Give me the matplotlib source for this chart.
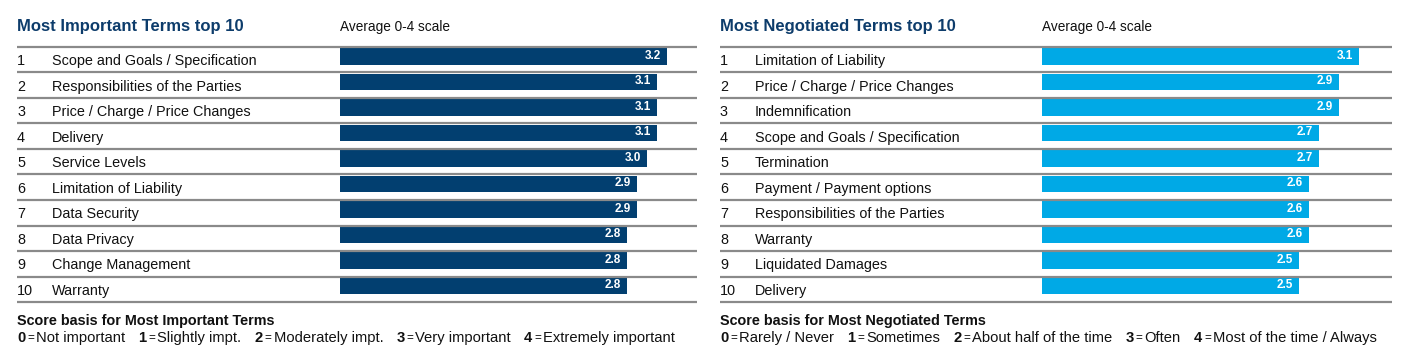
import matplotlib.pyplot as plt
import numpy as np
from matplotlib.transforms import blended_transform_factory

plt.rcParams["font.family"] = ["Liberation Sans", "DejaVu Sans"]

# data
IMPORTANT_TERMS = [
    "Scope and Goals / Specification",
    "Responsibilities of the Parties",
    "Price / Charge / Price Changes",
    "Delivery",
    "Service Levels",
    "Limitation of Liability",
    "Data Security",
    "Data Privacy",
    "Change Management",
    "Warranty",
]
IMPORTANT_SCORES = [3.2, 3.1, 3.1, 3.1, 3.0, 2.9, 2.9, 2.8, 2.8, 2.8]

NEGOTIATED_TERMS = [
    "Limitation of Liability",
    "Price / Charge / Price Changes",
    "Indemnification",
    "Scope and Goals / Specification",
    "Termination",
    "Payment / Payment options",
    "Responsibilities of the Parties",
    "Warranty",
    "Liquidated Damages",
    "Delivery",
]
NEGOTIATED_SCORES = [3.1, 2.9, 2.9, 2.7, 2.7, 2.6, 2.6, 2.6, 2.5, 2.5]

IMPORTANT_BASIS = [
    ("0", "Not important"),
    ("1", "Slightly impt."),
    ("2", "Moderately impt."),
    ("3", "Very important"),
    ("4", "Extremely important"),
]
NEGOTIATED_BASIS = [
    ("0", "Rarely / Never"),
    ("1", "Sometimes"),
    ("2", "About half of the time"),
    ("3", "Often"),
    ("4", "Most of the time / Always"),
]

COL_TITLE = "#0d3c6b"
COL_DARK = "#023f70"
COL_LIGHT = "#00a9e6"
COL_LINE = "#8a8a8a"
COL_TEXT = "#111111"

W, H = 1411, 352
BAR_PAD = 0.07


def fx(px):
    return px / W


def fy(py):
    return 1 - py / H


def draw_panel(fig, x0, x_bar, x_end, title, terms, scores, color, basis_title, basis):
    top, bottom = 47, 302
    ax = fig.add_axes([fx(x_bar), fy(bottom), fx(x_end - x_bar), (bottom - top) / H])
    n = len(terms)
    y = np.arange(n)
    ax.set_ylim(n - 0.5, -0.5)
    ax.set_xlim(-BAR_PAD, (x_end - x_bar) / 100 - BAR_PAD)
    ax.axis("off")

    vals = np.array(scores)
    ax.barh(y - 0.5 + 0.04, vals + BAR_PAD, left=-BAR_PAD, height=0.66,
            align="edge", color=color, linewidth=0)
    for i, v in enumerate(vals):
        ax.text(v - 0.06, i - 0.5 + 0.35, f"{v:.1f}", ha="right", va="center",
                color="white", fontsize=8.5, fontweight="bold")

    tr = blended_transform_factory(fig.transFigure, ax.transData)
    ax.hlines(np.arange(n + 1) - 0.5, fx(x0), fx(x_end), transform=tr,
              color=COL_LINE, linewidth=1.6, clip_on=False)
    for i, name in enumerate(terms):
        ax.text(fx(x0), i + 0.06, str(i + 1), transform=tr, ha="left", va="center",
                fontsize=10.4, color=COL_TEXT)
        ax.text(fx(x0 + 35), i + 0.06, name, transform=tr, ha="left", va="center",
                fontsize=10.4, color=COL_TEXT)

    fig.text(fx(x0), fy(26), title, ha="left", va="center", fontsize=12,
             fontweight="bold", color=COL_TITLE)
    fig.text(fx(x_bar), fy(27), "Average 0-4 scale", ha="left", va="center",
             fontsize=9.8, color=COL_TEXT)

    fig.text(fx(x0), fy(321), basis_title, ha="left", va="center", fontsize=10.4,
             fontweight="bold", color=COL_TEXT)

    renderer = fig.canvas.get_renderer()
    x = x0
    for num, label in basis:
        t = fig.text(fx(x), fy(338), num, ha="left", va="center", fontsize=10.6,
                     fontweight="bold", color=COL_TEXT)
        x += t.get_window_extent(renderer).width + 2
        t = fig.text(fx(x), fy(338), "=", ha="left", va="center", fontsize=8.5,
                     color=COL_TEXT)
        x += t.get_window_extent(renderer).width + 2
        t = fig.text(fx(x), fy(338), label, ha="left", va="center", fontsize=10.6,
                     color=COL_TEXT)
        x += t.get_window_extent(renderer).width + 13


fig = plt.figure(figsize=(W / 100, H / 100), dpi=100)
fig.patch.set_facecolor("white")

draw_panel(fig, 17, 340, 697, "Most Important Terms top 10", IMPORTANT_TERMS,
           IMPORTANT_SCORES, COL_DARK, "Score basis for Most Important Terms",
           IMPORTANT_BASIS)
draw_panel(fig, 720, 1042, 1392, "Most Negotiated Terms top 10", NEGOTIATED_TERMS,
           NEGOTIATED_SCORES, COL_LIGHT, "Score basis for Most Negotiated Terms",
           NEGOTIATED_BASIS)

fig.savefig("out.png", dpi=100)
